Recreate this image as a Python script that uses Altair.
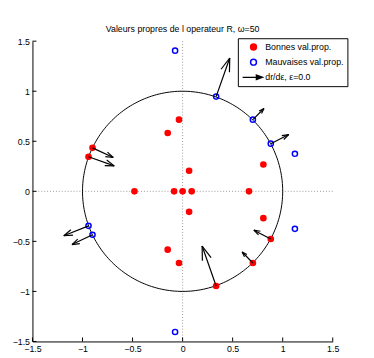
import altair as alt
import pandas as pd
import numpy as np

# ---- data ----
title_text = "Valeurs propres de l operateur R, ω=50"
series_names = ["Bonnes val.prop.", "Mauvaises val.prop.", "dr/dε, ε=0.0"]
ticks = [-1.5, -1, -0.5, 0, 0.5, 1, 1.5]

good_x = [-0.900, -0.940, -0.149, -0.036, 0.065, -0.481, -0.085, 0.000, 0.091, 0.663,
          0.807, 0.065, 0.807, 0.881, -0.149, -0.036, 0.702, 0.335]
good_y = [0.434, 0.345, 0.583, 0.716, 0.205, 0.000, 0.000, 0.000, 0.000, 0.000,
          0.268, -0.205, -0.268, -0.476, -0.583, -0.716, -0.716, -0.946]

bad_x = [-0.075, 0.335, 0.702, 0.881, 1.122, 1.122, -0.940, -0.900, -0.075]
bad_y = [1.405, 0.946, 0.716, 0.476, 0.375, -0.375, -0.345, -0.434, -1.405]

arrow_x = [0.335, 0.702, 0.881, -0.900, -0.940, -0.940, -0.900, 0.881, 0.702, 0.335]
arrow_y = [0.946, 0.716, 0.476, 0.434, 0.345, -0.345, -0.434, -0.476, -0.716, -0.946]
arrow_u = [0.136, 0.111, 0.179, 0.207, 0.257, -0.247, -0.205, -0.169, -0.107, -0.140]
arrow_v = [0.386, 0.111, 0.091, -0.096, -0.091, -0.099, -0.098, 0.088, 0.110, 0.399]

# ---- tables built from the arrays ----
pts = pd.concat([
    pd.DataFrame({"x": good_x, "y": good_y, "series": series_names[0]}),
    pd.DataFrame({"x": bad_x, "y": bad_y, "series": series_names[1]}),
], ignore_index=True)

alpha, beta = 0.33, 0.33  # quiver arrow-head proportions
segs = []
for x, y, u, v in zip(arrow_x, arrow_y, arrow_u, arrow_v):
    tx, ty = x + u, y + v
    segs.append(dict(x=x, y=y, x2=tx, y2=ty))
    segs.append(dict(x=tx - alpha * (u + beta * v), y=ty - alpha * (v - beta * u), x2=tx, y2=ty))
    segs.append(dict(x=tx - alpha * (u - beta * v), y=ty - alpha * (v + beta * u), x2=tx, y2=ty))
segs = pd.DataFrame(segs)

theta = np.linspace(0, 2 * np.pi, 241)
circle = pd.DataFrame({"x": np.cos(theta), "y": np.sin(theta), "i": np.arange(len(theta))})

lo, hi = ticks[0], ticks[-1]
zero_lines = pd.DataFrame({"x": [lo, 0.0], "x2": [hi, 0.0], "y": [0.0, lo], "y2": [0.0, hi]})

tlen = 0.04
tick_rules = pd.DataFrame(
    [dict(x=lo, x2=lo + tlen, y=t, y2=t) for t in ticks] +
    [dict(x=t, x2=t, y=lo, y2=lo + tlen) for t in ticks]
)

# ---- styling ----
FONT = "Liberation Sans"
xs = alt.Scale(domain=[lo, hi], nice=False, zero=False)
ys = alt.Scale(domain=[lo, hi], nice=False, zero=False)
axis_common = dict(values=ticks, tickSize=0, domainColor="black", domainWidth=1,
                   labelFont=FONT, labelFontSize=9, labelColor="black", format="~g",
                   grid=False, title=None, labelFlush=False, labelOverlap=False)
xaxis = alt.Axis(labelPadding=3, **axis_common)
yaxis = alt.Axis(labelPadding=3, **axis_common)

X = lambda f="x": alt.X(f"{f}:Q", scale=xs, axis=xaxis)
Y = lambda f="y": alt.Y(f"{f}:Q", scale=ys, axis=yaxis)

NB = "\u00a0"
arrow_path = "M-3.7,0L1.2,0M1,-0.75L3,0L1,0.75Z"
legend = alt.Legend(title=None, orient="none", legendX=210, legendY=-3,
                    padding=3, symbolOffset=8.5, labelOffset=7.5, rowPadding=3.5,
                    clipHeight=12,
                    labelFont=FONT, labelFontSize=9, labelColor="black",
                    strokeColor="black", fillColor="white", symbolSize=36,
                    symbolStrokeWidth=1.5, labelExpr=f"datum.label + '{NB * 13}'")

zero_layer = alt.Chart(zero_lines).mark_rule(color="#999999", strokeDash=[1, 2], strokeWidth=1).encode(
    x=X(), y=Y(), x2="x2:Q", y2="y2:Q")

circle_layer = alt.Chart(circle).mark_line(color="black", strokeWidth=1).encode(
    x=X(), y=Y(), order="i:Q")

points_layer = alt.Chart(pts).mark_point(size=28, strokeWidth=1.5, opacity=1).encode(
    x=X(), y=Y(),
    shape=alt.Shape("series:N", scale=alt.Scale(domain=series_names, range=["circle", "circle", arrow_path]), legend=legend),
    fill=alt.Fill("series:N", scale=alt.Scale(domain=series_names, range=["red", "transparent", "black"]), legend=legend),
    stroke=alt.Stroke("series:N", scale=alt.Scale(domain=series_names, range=["red", "blue", "black"]), legend=legend),
)

arrow_layer = alt.Chart(segs).mark_rule(color="black", strokeWidth=1.2).encode(
    x=X(), y=Y(), x2="x2:Q", y2="y2:Q")

tick_layer = alt.Chart(tick_rules).mark_rule(color="black", strokeWidth=1).encode(
    x=X(), y=Y(), x2="x2:Q", y2="y2:Q")

chart = alt.layer(zero_layer, circle_layer, points_layer, arrow_layer, tick_layer).properties(
    width=307, height=307,
    padding={"left": 25, "top": 30, "right": 34, "bottom": 13},
    autosize=alt.AutoSizeParams(type="none"),
    title=alt.Title(title_text, font=FONT, fontSize=9, fontWeight="normal",
                    color="black", offset=3, anchor="middle"),
).configure_view(stroke=None)

chart.save("out.html", embed_options={"renderer": "svg", "actions": False})
